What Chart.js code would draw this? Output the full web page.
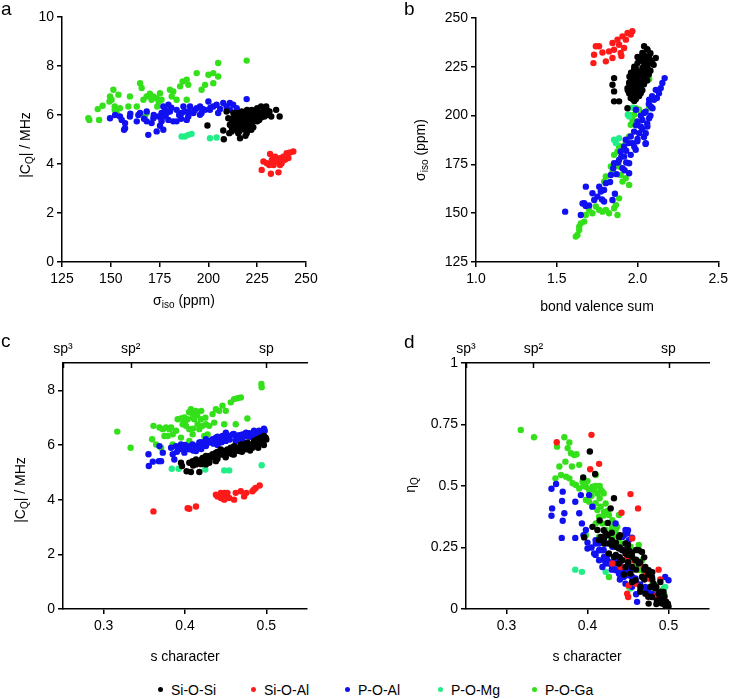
<!DOCTYPE html>
<html>
<head>
<meta charset="utf-8">
<script src="https://cdn.jsdelivr.net/npm/chart.js@4.4.1/dist/chart.umd.min.js"></script>
<style>
    body { margin: 0; background: #fff; }
    #wrap { position: relative; width: 732px; height: 699px; font-family: "Liberation Sans", Arial, sans-serif; color: #000; }
    canvas { position: absolute; }
    .lbl { position: absolute; font-size: 14px; white-space: nowrap; transform: translate(-50%, -50%); }
    .rot { transform: translate(-50%, -50%) rotate(-90deg); }
    .panel { position: absolute; font-size: 19px; }
    sub { font-size: 10px; vertical-align: -3px; }
    .key { position: absolute; top: 682px; font-size: 14px; line-height: 16px; }
    .key i { display: inline-block; width: 5px; height: 5px; border-radius: 50%; margin-right: 8px; vertical-align: 3px; }
</style>
</head>
<body>
<div id="wrap">
    <canvas id="pa" width="366" height="330" style="left:0;top:0"></canvas>
    <canvas id="pb" width="366" height="330" style="left:366px;top:0"></canvas>
    <canvas id="pc" width="366" height="345" style="left:0;top:330px"></canvas>
    <canvas id="pd" width="366" height="345" style="left:366px;top:330px"></canvas>

    <div class="panel" style="left:1px;top:-2px">a</div>
    <div class="panel" style="left:404px;top:-2px">b</div>
    <div class="panel" style="left:1px;top:330px">c</div>
    <div class="panel" style="left:404px;top:331px">d</div>

    <div class="lbl rot" style="left:26px;top:145px">|C<sub>Q</sub>| / MHz</div>
    <div class="lbl" style="left:184px;top:301px">σ<sub>iso</sub> (ppm)</div>
    <div class="lbl rot" style="left:421px;top:150px">σ<sub>iso</sub> (ppm)</div>
    <div class="lbl" style="left:597px;top:306px">bond valence sum</div>
    <div class="lbl rot" style="left:21px;top:490px">|C<sub>Q</sub>| / MHz</div>
    <div class="lbl" style="left:185px;top:656px">s character</div>
    <div class="lbl rot" style="left:411px;top:485px">η<sub>Q</sub></div>
    <div class="lbl" style="left:587px;top:656px">s character</div>

    <div id="legend"></div>
</div>
<script>
// series
const seriesNames = ['Si-O-Si', 'Si-O-Al', 'P-O-Al', 'P-O-Mg', 'P-O-Ga'];
const seriesColors = ['#000000', '#ff1a1a', '#1010f0', '#22ee88', '#33e01a'];

// ticks
const aXTicks = [125, 150, 175, 200, 225, 250];
const aYTicks = [0, 2, 4, 6, 8, 10];
const bXTicks = [1.0, 1.5, 2.0, 2.5];
const bYTicks = [125, 150, 175, 200, 225, 250];
const sTicks = [0.3, 0.4, 0.5];
const cYTicks = [0, 2, 4, 6, 8];
const dYTicks = [0, 0.25, 0.5, 0.75, 1];
const hybridTicks = [0.25, 1 / 3, 0.5];
const hybridLabels = ['sp³', 'sp²', 'sp'];

// panel a: sigma_iso (ppm) vs |CQ| (MHz)
const aSiOSi = [[199.5,5.57],[207.6,5.37],[207.9,5.01],[209.3,6.14],[210.2,5.87],[211,5.6],[211.9,5.33],[213.6,5.8],[214.5,6.08],[214.5,5.53],[215.3,5.26],[216.2,5.05],[216.2,5.8],[217.1,6.14],[218,5.67],[218.9,5.94],[218.9,5.4],[219.8,6.21],[220.6,5.8],[221.3,6.0],[222.2,5.6],[223,6.14],[224,5.87],[225,6.28],[226,6.01],[227,6.35],[227.9,6.08],[228.7,6.21],[229.6,6.35],[230.5,6.01],[231.3,6.14],[232.2,5.94],[234.7,6.21],[236.5,5.94],[212.8,6.08],[215.3,5.67],[217.1,5.46],[219.6,5.26],[220.5,5.53],[223,5.74],[210.7,5.26],[213.6,5.53],[218,6.01],[222.2,6.21],[228.7,5.94],[225,5.74],[216.2,6.01],[214,5.9],[217,5.7],[219,5.6],[221,5.9],[223,5.5],[224,6.0],[226,5.8],[227,6.1],[220,6.05],[218,5.45],[216,5.35],[222,5.65],[230,6.2],[224.5,6.2],[212,5.7],[219,5.15],[213,5.9],[215,6.0],[217,5.9],[219,5.8],[221,5.7],[223,5.9],[225,6.0],[227,5.9],[229,6.1],[217,5.5],[220,5.35],[222,5.4],[214,5.4],[212,5.5]];
const aSiOAl = [[227.3,3.76],[228.2,4.1],[230,4.03],[231.6,4.41],[232,3.6],[232.5,4.17],[233.4,3.96],[235,4.1],[235.9,3.66],[236.7,4.24],[237.5,4.03],[238.4,4.3],[239.2,4.17],[240.1,4.44],[241,4.24],[241.8,4.47],[243.5,4.51],[234.2,4.3],[231.2,3.96],[236.7,3.96]];
const aPOAl = [[149.6,5.87],[152.2,6.0],[154.7,5.94],[155.6,5.8],[157.3,5.67],[157.3,5.46],[156.8,5.4],[159.8,5.94],[163.3,5.74],[164.1,6.0],[165,6.08],[168.4,6.14],[169.2,5.19],[170.9,5.67],[171.8,5.87],[173.5,5.33],[174.5,5.94],[176,6.08],[176.9,6.35],[177.8,6.21],[176,5.74],[176.9,5.4],[178.6,6.08],[179.5,6.42],[179.5,5.8],[182,5.74],[183.7,6.21],[183.7,5.74],[186.3,6.08],[187.2,6.35],[188,6.14],[189.7,5.94],[190.6,6.35],[192.3,6.08],[194,6.28],[195.7,6.35],[196.5,6.08],[198.3,6.21],[200,6.55],[200.8,6.21],[202.5,6.35],[204.2,6.42],[205,6.08],[207.6,6.49],[209.3,6.35],[211,6.49],[212.7,6.42],[214.5,6.28],[219.6,6.65],[195.7,6.01],[188.9,5.8],[180.3,6.14],[211,6.21],[168.4,5.74],[175.2,5.56],[172,6.0],[178,5.95],[185,6.0],[190,6.15],[193,6.2],[197,6.25],[201,6.3],[206,6.25],[176,5.85],[181,6.3],[186,5.85],[167,5.85],[160,6.05]];
const aPOMg = [[186.3,5.12],[188,5.12],[189.7,5.19],[191.4,5.23],[200.8,5.05],[204.2,5.08]];
const aPOGa = [[138.5,5.87],[139,5.8],[143.3,6.24],[144,5.8],[145.8,6.38],[149.6,6.76],[151.3,7.03],[150.4,6.62],[152,6.35],[153.9,6.83],[154.7,6.28],[153,6.08],[159,6.35],[159.8,6.76],[163.3,6.35],[165,7.3],[165.8,7.1],[166.7,6.62],[168.4,6.76],[170,6.87],[171.8,6.76],[170.9,6.62],[173.5,6.69],[175.2,6.89],[173.8,6.35],[176,6.62],[167.5,5.94],[168.4,6.08],[180.3,7.03],[181.2,6.76],[182,6.96],[183.7,6.62],[185.5,7.17],[186.8,7.37],[188.9,7.44],[189.7,7.23],[188.9,6.62],[194,7.71],[196.5,7.03],[198.3,7.23],[200,7.64],[202.5,7.71],[202.5,7.3],[205,8.12],[205,7.57],[219.6,8.22],[174.5,6.55],[152,6.21],[149.3,6.55]];

// panel b: bond valence sum vs sigma_iso (ppm)
const bSiOSi = [[1.855,219.2],[1.845,215.8],[1.855,212.4],[1.855,207.3],[1.886,207.3],[1.938,203.8],[2.041,235.5],[2.061,233.8],[2.03,232.1],[2.051,230.3],[2.02,229.5],[2.072,229.5],[2.113,229.5],[2.0,226.9],[2.041,226.9],[2.082,226.9],[1.989,224.4],[2.03,224.4],[2.061,224.4],[1.969,221.8],[2.01,221.8],[2.051,221.8],[1.958,219.2],[2.0,219.2],[2.041,219.2],[1.948,216.7],[1.989,216.7],[2.03,216.7],[1.938,214.1],[1.979,214.1],[2.02,214.1],[1.948,211.5],[1.989,211.5],[1.958,209.0],[2.0,209.9],[2.02,211.5],[1.979,223.6],[2.01,228.6],[2.03,228],[2.05,226],[1.99,220.5],[2.02,218],[1.97,217.5],[1.96,213],[2.0,212.5],[1.97,210.5],[1.98,207.5],[2.01,215.5],[2.06,228],[2.04,231],[2.06,234],[2.08,232],[2.0,230],[2.09,228],[2.1,226],[1.98,225],[2.06,225],[2.08,223],[1.96,222],[2.0,222.5],[2.04,223],[2.07,221],[1.95,220],[1.98,219],[2.03,220],[2.06,218],[1.95,217],[1.97,215],[2.0,216.5],[2.04,216],[1.94,213],[1.99,213],[2.03,213],[1.96,211],[2.01,210],[1.99,208.5],[1.97,208.5],[2.02,230],[2.0,214.5],[1.96,219]];
const bSiOAl = [[1.727,226.9],[1.731,231.2],[1.742,235.5],[1.762,235.5],[1.783,232.3],[1.804,227.8],[1.824,232.9],[1.845,237.2],[1.855,233.7],[1.876,238.9],[1.886,236.3],[1.896,232.1],[1.907,240.6],[1.917,234.6],[1.928,238.9],[1.938,242.3],[1.958,241.5],[1.968,243.2],[1.845,229.5],[1.90,230.5]];
const bPOAl = [[1.552,150.8],[1.649,149.1],[1.67,155.1],[1.68,153.7],[1.68,163.6],[1.732,156.8],[1.752,158.5],[1.793,156.0],[1.793,161.9],[1.845,156.8],[1.804,165.4],[1.835,169.6],[1.855,175.6],[1.886,177.3],[1.917,179.0],[1.948,170.5],[1.948,175.6],[1.958,179.9],[1.917,184.2],[1.927,187.6],[1.958,189.3],[1.989,182.5],[1.969,185.9],[1.999,186.8],[2.01,191.0],[2.02,194.4],[2.03,197.8],[2.041,201.3],[2.051,191.0],[2.061,194.4],[2.051,185.9],[2.072,198.7],[2.082,204.7],[2.072,208.1],[2.102,208.1],[2.113,213.2],[2.133,211.5],[2.144,214.1],[2.154,216.7],[2.168,219.2],[2.093,203.8],[2.0,197.0],[1.979,191.8],[1.948,185.9],[1.896,181.6],[1.907,173.0],[1.763,163.6],[1.721,160.2],[1.773,161.1],[1.99,195],[2.03,193],[2.06,196],[2.02,200],[2.05,202],[2.08,200],[2.04,189],[2.0,188],[1.98,184],[2.07,206],[2.09,210],[2.12,209],[1.93,182],[1.9,179],[1.88,176],[1.93,176],[1.92,172],[1.85,173],[1.87,170],[1.83,166],[1.86,160],[1.78,157],[1.7,154],[1.66,155],[1.99,203],[2.05,185.5]];
const bPOMg = [[1.855,187.6],[1.866,185.9],[1.886,188.4],[1.948,199.6],[1.97,204.0],[1.94,200.4]];
const bPOGa = [[1.618,138.0],[1.628,138.8],[1.639,141.4],[1.649,144.8],[1.67,145.7],[1.639,143.1],[1.68,149.1],[1.701,151.7],[1.721,150.0],[1.742,153.4],[1.763,151.7],[1.783,150.8],[1.804,151.7],[1.824,150.0],[1.855,152.5],[1.866,154.2],[1.886,157.6],[1.876,149.1],[1.793,166.2],[1.804,168.8],[1.835,173.9],[1.845,171.3],[1.866,174.8],[1.896,169.6],[1.907,166.2],[1.927,167.9],[1.948,164.5],[1.886,173.9],[1.855,179.9],[1.876,181.6],[1.896,184.2],[1.927,185.9],[1.948,189.3],[1.958,195.3],[1.969,197.8],[1.979,200.4],[1.989,203.8],[2.01,203.0],[2.072,203.8],[2.072,218.7],[1.948,200.4],[1.886,184.2]];

// panel c: s character vs |CQ| (MHz)
const cSiOSi = [[0.3951,5.35],[0.3963,5.23],[0.402,5.04],[0.4073,5.01],[0.4176,5.01],[0.4053,5.35],[0.4094,5.41],[0.4135,5.47],[0.4176,5.41],[0.4216,5.53],[0.4257,5.6],[0.4298,5.53],[0.4339,5.66],[0.438,5.72],[0.442,5.66],[0.4441,5.84],[0.4482,5.78],[0.4522,5.84],[0.4563,5.9],[0.4604,5.96],[0.4645,5.9],[0.4686,6.02],[0.4727,6.02],[0.4767,6.09],[0.4808,6.02],[0.4849,6.15],[0.489,6.21],[0.4931,6.27],[0.4971,6.33],[0.4992,6.27],[0.4298,5.35],[0.4257,5.29],[0.438,5.41],[0.4502,5.6],[0.4584,5.66],[0.4665,5.78],[0.4747,5.84],[0.4829,5.9],[0.491,6.02],[0.4135,5.29],[0.41,5.25],[0.415,5.35],[0.42,5.3],[0.425,5.45],[0.43,5.4],[0.435,5.55],[0.44,5.5],[0.445,5.65],[0.45,5.55],[0.455,5.7],[0.46,5.65],[0.465,5.85],[0.47,5.75],[0.475,5.95],[0.48,5.8],[0.485,6.0],[0.49,5.9],[0.495,6.1],[0.5,6.2],[0.497,6.0],[0.44,5.75],[0.455,5.85],[0.47,5.95],[0.485,6.1],[0.42,5.45],[0.43,5.6],[0.46,5.8],[0.49,6.15]];
const cSiOAl = [[0.3612,3.57],[0.4033,3.69],[0.4053,3.67],[0.4135,3.75],[0.44,4.12],[0.442,4.16],[0.4441,4.06],[0.4461,4.18],[0.4482,4.0],[0.4502,4.12],[0.4522,4.25],[0.4543,4.06],[0.4482,4.25],[0.4604,4.0],[0.4624,4.25],[0.4686,4.31],[0.4727,4.12],[0.4755,4.25],[0.4829,4.31],[0.4849,4.37],[0.4869,4.43],[0.4918,4.52],[0.4441,4.25],[0.438,4.18]];
const cPOAl = [[0.3551,5.66],[0.3555,5.23],[0.3604,5.39],[0.3678,5.41],[0.3706,5.41],[0.3727,5.72],[0.3686,5.96],[0.3829,5.9],[0.3849,5.66],[0.3869,5.47],[0.389,5.96],[0.3951,6.02],[0.4012,5.96],[0.4053,5.84],[0.4094,6.02],[0.4135,5.96],[0.4176,6.09],[0.4216,6.02],[0.4257,6.21],[0.4298,6.09],[0.4339,6.21],[0.438,6.27],[0.442,6.21],[0.4461,6.33],[0.4502,6.45],[0.4543,6.33],[0.4584,6.39],[0.4624,6.33],[0.4665,6.36],[0.4706,6.39],[0.4747,6.33],[0.4788,6.43],[0.4849,6.52],[0.491,6.52],[0.4971,6.6],[0.498,6.52],[0.3992,5.72],[0.4135,5.78],[0.4257,5.96],[0.438,6.09],[0.4502,6.15],[0.4624,6.15],[0.3931,5.84],[0.39,5.75],[0.4,5.85],[0.405,5.95],[0.41,5.8],[0.415,5.9],[0.42,6.1],[0.425,6.0],[0.43,6.15],[0.435,6.05],[0.44,6.3],[0.445,6.1],[0.45,6.25],[0.455,6.2],[0.46,6.4],[0.465,6.25],[0.47,6.2],[0.475,6.45],[0.48,6.3],[0.485,6.35],[0.49,6.4],[0.495,6.45],[0.4,6.0],[0.42,5.85],[0.44,6.0]];
const cPOMg = [[0.3837,5.13],[0.3922,5.13],[0.4249,5.1],[0.4482,5.07],[0.4543,5.07],[0.4943,5.26]];
const cPOGa = [[0.3167,6.49],[0.3331,5.9],[0.3612,6.7],[0.3596,6.21],[0.3645,6.02],[0.3686,6.64],[0.3727,6.58],[0.3767,6.64],[0.3808,6.58],[0.3747,6.33],[0.3788,6.33],[0.3829,6.64],[0.3849,6.39],[0.389,6.52],[0.391,6.94],[0.3951,6.97],[0.3971,6.76],[0.3992,7.01],[0.4012,6.7],[0.4033,6.94],[0.4053,6.58],[0.4073,7.31],[0.4094,7.13],[0.4114,6.94],[0.4135,7.25],[0.4155,6.76],[0.4176,6.58],[0.4196,6.94],[0.4216,6.7],[0.4237,6.33],[0.4257,6.76],[0.4298,6.7],[0.4339,7.13],[0.4359,6.82],[0.438,7.31],[0.442,7.25],[0.4461,7.44],[0.4482,6.76],[0.4502,7.25],[0.4563,7.56],[0.4604,7.68],[0.4624,6.76],[0.4645,7.71],[0.4686,7.74],[0.4767,6.97],[0.4939,8.23],[0.4943,8.11],[0.4053,6.15],[0.4278,6.39],[0.4094,6.39],[0.3951,6.27],[0.3849,6.02],[0.3706,5.9],[0.405,7.2],[0.41,7.0],[0.415,7.1],[0.4,6.85],[0.42,7.25],[0.41,6.6],[0.425,7.0]];

// panel d: s character vs eta_Q
const dSiOSi = [[0.4029,0.64],[0.4094,0.549],[0.4327,0.45],[0.4286,0.409],[0.3947,0.535],[0.3959,0.291],[0.4061,0.334],[0.4122,0.321],[0.4163,0.293],[0.4204,0.287],[0.4224,0.307],[0.4265,0.266],[0.4306,0.26],[0.4347,0.253],[0.4388,0.246],[0.4429,0.239],[0.4469,0.226],[0.451,0.239],[0.4551,0.212],[0.4592,0.198],[0.4633,0.185],[0.4673,0.232],[0.4714,0.171],[0.4755,0.158],[0.4796,0.13],[0.4816,0.103],[0.4837,0.083],[0.4878,0.062],[0.4898,0.042],[0.4918,0.022],[0.4939,0.035],[0.4959,0.015],[0.498,0.008],[0.4992,0.022],[0.4755,0.022],[0.4796,0.049],[0.4714,0.062],[0.4653,0.09],[0.4592,0.117],[0.4531,0.144],[0.4469,0.171],[0.4388,0.185],[0.4327,0.212],[0.4265,0.226],[0.4204,0.266],[0.4143,0.28],[0.4429,0.198],[0.4551,0.171],[0.4673,0.13],[0.4776,0.09],[0.4857,0.035],[0.4939,0.069],[0.4469,0.266],[0.4633,0.239],[0.4388,0.293],[0.425,0.3],[0.43,0.28],[0.435,0.27],[0.44,0.25],[0.445,0.24],[0.45,0.22],[0.455,0.23],[0.46,0.2],[0.465,0.19],[0.47,0.16],[0.475,0.14],[0.48,0.12],[0.485,0.09],[0.49,0.07],[0.495,0.05],[0.5,0.01],[0.44,0.21],[0.45,0.19],[0.46,0.16],[0.47,0.12],[0.48,0.09],[0.49,0.04],[0.485,0.02],[0.475,0.05],[0.465,0.07],[0.455,0.11],[0.445,0.14],[0.435,0.22],[0.43,0.31],[0.44,0.3],[0.45,0.26],[0.46,0.24],[0.47,0.21],[0.48,0.15],[0.49,0.11],[0.497,0.03],[0.42,0.32],[0.415,0.36],[0.425,0.35]];
const dSiOAl = [[0.362,0.678],[0.4049,0.708],[0.4033,0.568],[0.4143,0.59],[0.4531,0.467],[0.442,0.391],[0.4624,0.409],[0.4551,0.287],[0.4571,0.198],[0.449,0.212],[0.4694,0.171],[0.4714,0.137],[0.4755,0.124],[0.4878,0.16],[0.4898,0.12],[0.4857,0.056],[0.451,0.096],[0.449,0.062],[0.4502,0.049],[0.4592,0.103],[0.4408,0.171],[0.4306,0.185]];
const dPOAl = [[0.3555,0.489],[0.3563,0.409],[0.3555,0.379],[0.3612,0.508],[0.3694,0.477],[0.3686,0.439],[0.3714,0.389],[0.3694,0.359],[0.3682,0.289],[0.3849,0.436],[0.3849,0.289],[0.3898,0.389],[0.3931,0.348],[0.3918,0.463],[0.398,0.321],[0.4,0.246],[0.402,0.463],[0.4061,0.416],[0.4102,0.266],[0.4082,0.226],[0.4143,0.239],[0.4143,0.198],[0.4184,0.171],[0.4204,0.212],[0.4245,0.198],[0.4265,0.185],[0.4224,0.266],[0.4306,0.171],[0.4347,0.158],[0.4367,0.185],[0.4388,0.144],[0.4408,0.171],[0.4429,0.158],[0.4449,0.13],[0.4469,0.103],[0.449,0.158],[0.451,0.137],[0.4531,0.158],[0.4551,0.13],[0.4592,0.124],[0.4469,0.321],[0.449,0.307],[0.451,0.28],[0.4429,0.293],[0.4347,0.348],[0.4612,0.029],[0.4653,0.076],[0.4714,0.09],[0.4755,0.062],[0.4837,0.049],[0.4918,0.035],[0.4959,0.13],[0.5,0.117],[0.498,0.011],[0.4306,0.253],[0.4388,0.212],[0.4224,0.185],[0.4184,0.239],[0.4143,0.266],[0.405,0.25],[0.41,0.22],[0.415,0.24],[0.42,0.2],[0.425,0.22],[0.43,0.19],[0.435,0.16],[0.44,0.18],[0.445,0.15],[0.45,0.14],[0.455,0.13],[0.46,0.11],[0.465,0.1],[0.47,0.08],[0.475,0.08],[0.48,0.06],[0.485,0.05],[0.49,0.03],[0.44,0.14],[0.45,0.17],[0.435,0.2],[0.445,0.3],[0.45,0.32],[0.455,0.29],[0.4,0.27],[0.395,0.3],[0.41,0.28],[0.42,0.24],[0.43,0.16],[0.44,0.12],[0.455,0.09],[0.46,0.06]];
const dPOMg = [[0.3849,0.16],[0.3931,0.151],[0.4224,0.151],[0.4531,0.083],[0.4959,0.09]];
const dPOGa = [[0.3176,0.728],[0.3339,0.698],[0.3624,0.66],[0.3714,0.698],[0.3776,0.677],[0.3755,0.654],[0.3796,0.633],[0.3837,0.626],[0.3865,0.629],[0.3653,0.579],[0.3727,0.599],[0.3808,0.579],[0.3898,0.586],[0.3604,0.531],[0.3673,0.545],[0.3735,0.538],[0.3776,0.531],[0.3816,0.511],[0.3857,0.504],[0.3898,0.49],[0.3939,0.518],[0.398,0.497],[0.402,0.484],[0.4061,0.497],[0.4102,0.545],[0.4082,0.484],[0.4122,0.47],[0.4163,0.484],[0.4184,0.477],[0.398,0.443],[0.402,0.436],[0.4061,0.416],[0.4122,0.402],[0.4163,0.416],[0.4204,0.395],[0.4224,0.429],[0.4265,0.382],[0.4306,0.361],[0.4327,0.348],[0.4367,0.334],[0.4388,0.382],[0.398,0.3],[0.4102,0.348],[0.4143,0.293],[0.4184,0.348],[0.4224,0.321],[0.4306,0.28],[0.4429,0.293],[0.4469,0.266],[0.4531,0.253],[0.4633,0.26],[0.4673,0.198],[0.4592,0.178],[0.451,0.185],[0.4408,0.192],[0.4265,0.13],[0.4653,0.158],[0.4776,0.076],[0.4837,0.096],[0.4939,0.083],[0.4951,0.056],[0.451,0.09],[0.4143,0.375],[0.4347,0.321],[0.4286,0.293],[0.405,0.46],[0.41,0.43],[0.415,0.45],[0.42,0.38],[0.415,0.5],[0.41,0.5],[0.42,0.47],[0.4,0.52],[0.395,0.5],[0.425,0.4],[0.43,0.33],[0.435,0.3],[0.44,0.27],[0.45,0.2],[0.46,0.17],[0.47,0.14],[0.48,0.1]];

Chart.defaults.font.family = '"Liberation Sans", Arial, sans-serif';
Chart.defaults.font.size = 14;
Chart.defaults.color = '#000';

// ticks pointing into the plot on the hybridisation axis
const inwardTicks = {
    id: 'inwardTicks',
    afterDraw: (chart) => {
        const s = chart.scales.x2;
        if (!s) return;
        const ctx = chart.ctx;
        ctx.save();
        ctx.strokeStyle = '#000';
        ctx.lineWidth = 1.5;
        s.ticks.forEach(t => {
            const px = Math.round(s.getPixelForValue(t.value)) + 0.5;
            ctx.beginPath();
            ctx.moveTo(px, s.bottom);
            ctx.lineTo(px, s.bottom + 5);
            ctx.stroke();
        });
        ctx.restore();
    }
};

const setTicks = (list) => (scale) => {
    scale.ticks = list.map(v => ({ value: v }));
};

const axis = ({ position, min, max, ticks, fmt, size }) => ({
    type: 'linear',
    position,
    min,
    max,
    afterBuildTicks: setTicks(ticks),
    afterFit: (scale) => {
        if (position === 'left') scale.width = size;
        else scale.height = size;
    },
    grid: { drawOnChartArea: false, color: '#000', lineWidth: 1.5, tickLength: 5 },
    border: { display: true, color: '#000', width: 1.5 },
    ticks: { padding: position === 'left' ? 3 : 4, callback: fmt }
});

const datasets = (list) => list.map((pts, i) => ({
    label: seriesNames[i],
    data: pts.map(p => ({ x: p[0], y: p[1] })),
    backgroundColor: seriesColors[i],
    borderWidth: 0,
    pointRadius: 3.2,
    pointHoverRadius: 3.2
}));

const panel = (id, list, scales, padding) => new Chart(document.getElementById(id), {
    type: 'scatter',
    data: { datasets: datasets(list) },
    options: {
        responsive: false,
        animation: false,
        layout: { padding },
        plugins: { legend: { display: false }, tooltip: { enabled: false } },
        scales
    },
    plugins: [inwardTicks]
});

const hybridAxis = (size) => ({
    type: 'linear',
    position: 'top',
    min: 0.25,
    max: 0.55,
    afterBuildTicks: setTicks(hybridTicks),
    afterFit: (scale) => { scale.height = size; },
    grid: { drawOnChartArea: false, drawTicks: false },
    border: { display: true, color: '#000', width: 1.5 },
    ticks: { padding: 5, callback: (v) => hybridLabels[hybridTicks.indexOf(v)] }
});

const fix1 = (v) => v.toFixed(1);
const plain = (v) => String(v);

panel('pa', [aSiOSi, aSiOAl, aPOAl, aPOMg, aPOGa], {
    x: axis({ position: 'bottom', min: 125, max: 250, ticks: aXTicks, fmt: plain, size: 68 }),
    y: axis({ position: 'left', min: 0, max: 10, ticks: aYTicks, fmt: plain, size: 62 })
}, { top: 17, right: 60, left: 0, bottom: 0 });

panel('pb', [bSiOSi, bSiOAl, bPOAl, bPOMg, bPOGa], {
    x: axis({ position: 'bottom', min: 1.0, max: 2.5, ticks: bXTicks, fmt: fix1, size: 68 }),
    y: axis({ position: 'left', min: 125, max: 250, ticks: bYTicks, fmt: plain, size: 110 })
}, { top: 18, right: 13, left: 0, bottom: 0 });

panel('pc', [cSiOSi, cSiOAl, cPOAl, cPOMg, cPOGa], {
    x: axis({ position: 'bottom', min: 0.25, max: 0.55, ticks: sTicks, fmt: fix1, size: 66 }),
    x2: hybridAxis(33),
    y: axis({ position: 'left', min: 0, max: 9, ticks: cYTicks, fmt: plain, size: 63 })
}, { top: 0, right: 59, left: 0, bottom: 0 });

panel('pd', [dSiOSi, dSiOAl, dPOAl, dPOMg, dPOGa], {
    x: axis({ position: 'bottom', min: 0.25, max: 0.55, ticks: sTicks, fmt: fix1, size: 66 }),
    x2: hybridAxis(33),
    y: axis({ position: 'left', min: 0, max: 1, ticks: dYTicks, fmt: plain, size: 100 })
}, { top: 0, right: 23, left: 0, bottom: 0 });

// shared legend
const legendX = [158, 251, 345, 438, 532];
const legend = document.getElementById('legend');
seriesNames.forEach((name, i) => {
    legend.innerHTML += `<div class="key" style="left:${legendX[i]}px"><i style="background:${seriesColors[i]}"></i>${name}</div>`;
});
</script>
</body>
</html>
